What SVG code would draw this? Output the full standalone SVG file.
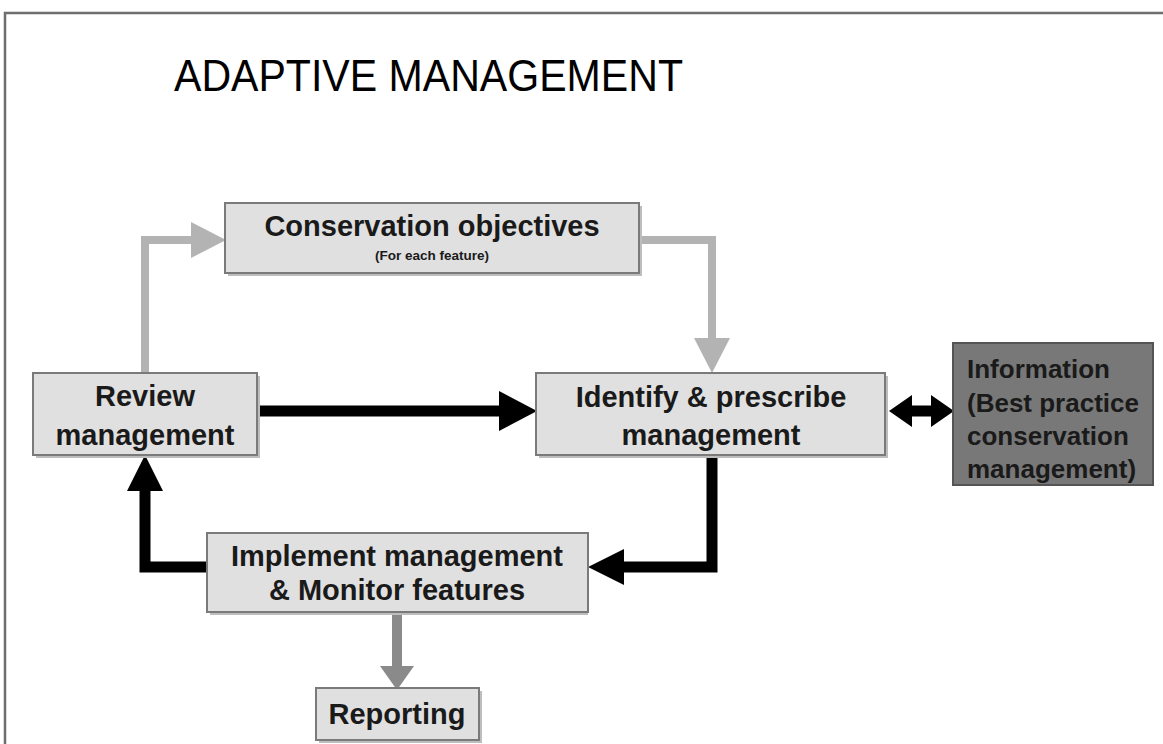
<svg xmlns="http://www.w3.org/2000/svg" width="1163" height="744" viewBox="0 0 1163 744">
<style>
.box{fill:#e0e0e0;stroke:#7a7a7a;stroke-width:2}
.sh{fill:#bdbdbd}
.t{font-family:"Liberation Sans",Arial,sans-serif;font-weight:bold;font-size:29px;fill:#1a1a1a;text-anchor:middle}
.s{font-size:13.5px}
.i{font-size:26px;text-anchor:start}
.k{fill:none;stroke:#000;stroke-width:11}
.g{fill:none;stroke:#b3b3b3;stroke-width:8}
.g2{fill:none;stroke:#8a8a8a;stroke-width:10}
</style>
<rect width="1163" height="744" fill="#fff"/>
<path d="M5,744 V13 H1163" fill="none" stroke="#6e6e6e" stroke-width="2.5"/>
<text x="174" y="91" font-family="Liberation Sans, Arial, sans-serif" font-size="45" fill="#000" textLength="509" lengthAdjust="spacingAndGlyphs">ADAPTIVE MANAGEMENT</text>

<g id="connectors">
<path class="g" d="M145,373 V240 H195"/>
<polygon points="191,222 226,240 191,258" fill="#b3b3b3"/>
<path class="g" d="M639,240 H712 V342"/>
<polygon points="694,338 730,338 712,373" fill="#b3b3b3"/>
<path class="k" d="M257,411 H502"/>
<polygon points="499,391 537,411 499,431" fill="#000"/>
<path class="k" d="M900,411 H944"/>
<polygon points="889,411 912,395 912,427" fill="#000"/>
<polygon points="954,411 931,395 931,427" fill="#000"/>
<path class="k" d="M712,455 V567 H622"/>
<polygon points="624,549 588,567 624,585" fill="#000"/>
<path class="k" d="M207,567 H145 V488"/>
<polygon points="127,491 145,455 163,491" fill="#000"/>
<path class="g2" d="M397,613 V670"/>
<polygon points="380,666 414,666 397,690" fill="#8a8a8a"/>
</g>

<g id="conservation">
<rect class="sh" x="228" y="206" width="414" height="70"/>
<rect class="box" x="225" y="203" width="414" height="70"/>
<text class="t" x="432" y="236">Conservation objectives</text>
<text class="t s" x="432" y="260">(For each feature)</text>
</g>

<g id="review">
<rect class="sh" x="36" y="376" width="224" height="82"/>
<rect class="box" x="33" y="373" width="224" height="82"/>
<text class="t" x="145" y="406">Review</text>
<text class="t" x="145" y="445">management</text>
</g>

<g id="identify">
<rect class="sh" x="539" y="376" width="349" height="82"/>
<rect class="box" x="536" y="373" width="349" height="82"/>
<text class="t" x="711" y="407">Identify &amp; prescribe</text>
<text class="t" x="711" y="445">management</text>
</g>

<g id="information">
<rect x="953" y="343" width="200" height="142" fill="#787878" stroke="#555" stroke-width="2"/>
<text class="t i" x="967" y="378">Information</text>
<text class="t i" x="967" y="412">(Best practice</text>
<text class="t i" x="967" y="445">conservation</text>
<text class="t i" x="967" y="478">management)</text>
</g>

<g id="implement">
<rect class="sh" x="210" y="536" width="378" height="79"/>
<rect class="box" x="207" y="533" width="381" height="79"/>
<text class="t" x="397" y="566">Implement management</text>
<text class="t" x="397" y="600">&amp; Monitor features</text>
</g>

<g id="reporting">
<rect class="sh" x="319" y="691" width="163" height="52"/>
<rect class="box" x="316" y="688" width="163" height="52"/>
<text class="t" x="397" y="724">Reporting</text>
</g>
</svg>
